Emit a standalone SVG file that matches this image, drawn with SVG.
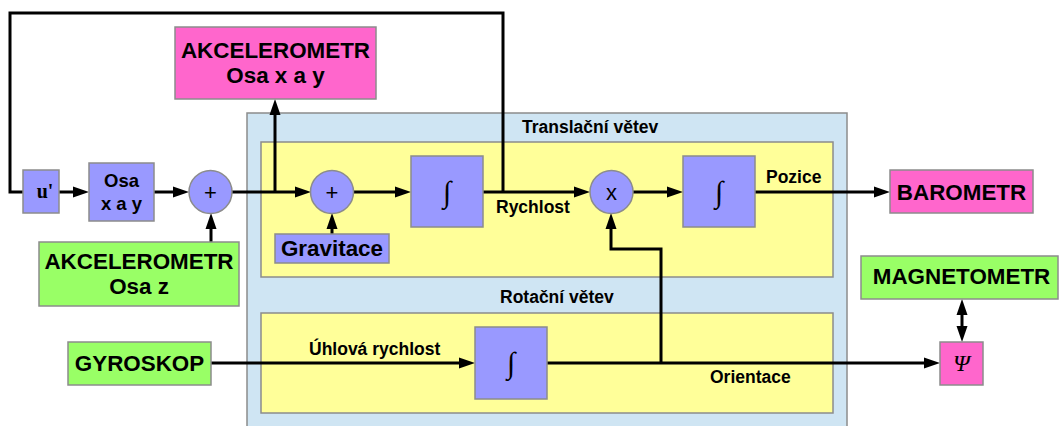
<svg xmlns="http://www.w3.org/2000/svg" width="1059" height="426" viewBox="0 0 1059 426">
  <style>
    .frame { fill: #cfe5f3; stroke: #8c8c8c; stroke-width: 1.5; }
    .branch { fill: #ffff99; stroke: #8c8c8c; stroke-width: 1.5; }
    .blk { fill: #9999ff; stroke: #8c8c8c; stroke-width: 1.5; }
    .pink { fill: #ff66cc; stroke: #8c8c8c; stroke-width: 1.5; }
    .green { fill: #99ff66; stroke: #8c8c8c; stroke-width: 1.5; }
    .big { font-family: "Liberation Sans", Arial, sans-serif; font-weight: bold; font-size: 22.4px; fill: #000; text-anchor: middle; }
    .small { font-family: "Liberation Sans", Arial, sans-serif; font-weight: bold; font-size: 17.5px; fill: #000; }
    .mid { font-family: "Liberation Sans", Arial, sans-serif; font-weight: bold; font-size: 18.5px; fill: #000; text-anchor: middle; }
    .op { font-family: "Liberation Sans", Arial, sans-serif; font-size: 22px; fill: #000; text-anchor: middle; }
    .int { font-family: "Liberation Serif", "Times New Roman", serif; font-size: 30px; fill: #000; text-anchor: middle; }
    .sym { font-family: "Liberation Serif", "Times New Roman", serif; font-style: italic; font-size: 24px; fill: #000; text-anchor: middle; }
    .wire { fill: none; stroke: #000; stroke-width: 3; stroke-linejoin: miter; }
  </style>
  <defs>
    <marker id="head" markerUnits="userSpaceOnUse" markerWidth="17" markerHeight="12" refX="8" refY="6" orient="auto">
      <path d="M0,0.5 L16,6 L0,11.5 z" fill="#000"/>
    </marker>
    <marker id="headStart" markerUnits="userSpaceOnUse" markerWidth="17" markerHeight="12" refX="8" refY="6" orient="auto-start-reverse">
      <path d="M0,0.5 L16,6 L0,11.5 z" fill="#000"/>
    </marker>
  </defs>

  <!-- branch frames -->
  <g id="frame">
    <rect class="frame" x="247" y="113" width="600" height="330"/>
    <text class="small" x="522" y="133">Translační větev</text>
    <text class="small" x="500" y="303">Rotační větev</text>
  </g>
  <g id="translation-branch">
    <rect class="branch" x="261" y="142" width="572" height="135"/>
  </g>
  <g id="rotation-branch">
    <rect class="branch" x="261" y="313" width="572" height="100"/>
  </g>

  <!-- connectors -->
  <g id="connectors">
    <path class="wire" d="M503,192 V13 H10 V192 H23"/>
    <path class="wire" d="M59,192 H81" marker-end="url(#head)"/>
    <path class="wire" d="M154,192 H181" marker-end="url(#head)"/>
    <path class="wire" d="M232,192 H303" marker-end="url(#head)"/>
    <path class="wire" d="M275,192 V107" marker-end="url(#head)"/>
    <path class="wire" d="M211,242 V221" marker-end="url(#head)"/>
    <path class="wire" d="M353,192 H403" marker-end="url(#head)"/>
    <path class="wire" d="M332,234 V221" marker-end="url(#head)"/>
    <path class="wire" d="M483,192 H582" marker-end="url(#head)"/>
    <path class="wire" d="M633,192 H675" marker-end="url(#head)"/>
    <path class="wire" d="M755,192 H882" marker-end="url(#head)"/>
    <path class="wire" d="M211,363 H467" marker-end="url(#head)"/>
    <path class="wire" d="M547,363 H932" marker-end="url(#head)"/>
    <path class="wire" d="M661,363 V249 H611 V221" marker-end="url(#head)"/>
    <path class="wire" d="M962,307 V334" marker-start="url(#headStart)" marker-end="url(#head)"/>
    <text class="small" x="496" y="213">Rychlost</text>
    <text class="small" x="766" y="183">Pozice</text>
    <text class="small" x="309" y="355">Úhlová rychlost</text>
    <text class="small" x="710" y="383">Orientace</text>
  </g>

  <!-- nodes -->
  <g id="acc-xy">
    <rect class="pink" x="175" y="27" width="201" height="72"/>
    <text class="big" x="275.5" y="58">AKCELEROMETR</text>
    <text class="big" x="275.5" y="83">Osa x a y</text>
  </g>
  <g id="u-prime">
    <rect class="blk" x="23" y="170" width="36" height="43"/>
    <text x="45" y="198" font-family="'Liberation Serif', 'Times New Roman', serif" font-weight="bold" font-size="20" text-anchor="middle">u'</text>
  </g>
  <g id="axis-xy">
    <rect class="blk" x="89" y="163" width="65" height="58"/>
    <text class="mid" x="121.5" y="187">Osa</text>
    <text class="mid" x="121.5" y="210">x a y</text>
  </g>
  <g id="sum-1">
    <circle class="blk" cx="210.5" cy="192" r="21.5"/>
    <text class="op" x="210.5" y="199.5">+</text>
  </g>
  <g id="acc-z">
    <rect class="green" x="39" y="242" width="200" height="64"/>
    <text class="big" x="139" y="269">AKCELEROMETR</text>
    <text class="big" x="139" y="294">Osa z</text>
  </g>
  <g id="sum-2">
    <circle class="blk" cx="332" cy="192" r="21.5"/>
    <text class="op" x="332" y="199.5">+</text>
  </g>
  <g id="gravity">
    <rect class="blk" x="275" y="234" width="114" height="29"/>
    <text class="big" x="332" y="256">Gravitace</text>
  </g>
  <g id="integrator-velocity">
    <rect class="blk" x="411" y="156" width="72" height="71"/>
    <text class="int" x="447" y="202">∫</text>
  </g>
  <g id="multiply">
    <circle class="blk" cx="611.5" cy="192" r="21.5"/>
    <text class="op" x="611.5" y="199.5">x</text>
  </g>
  <g id="integrator-position">
    <rect class="blk" x="683" y="156" width="72" height="71"/>
    <text class="int" x="719" y="202">∫</text>
  </g>
  <g id="barometer">
    <rect class="pink" x="890" y="170" width="143" height="43"/>
    <text class="big" x="961.5" y="200">BAROMETR</text>
  </g>
  <g id="gyroscope">
    <rect class="green" x="68" y="342" width="143" height="43"/>
    <text class="big" x="139.5" y="371">GYROSKOP</text>
  </g>
  <g id="integrator-orientation">
    <rect class="blk" x="475" y="327" width="72" height="72"/>
    <text class="int" x="511" y="373">∫</text>
  </g>
  <g id="magnetometer">
    <rect class="green" x="861" y="256" width="197" height="43"/>
    <text class="big" x="961.5" y="284">MAGNETOMETR</text>
  </g>
  <g id="psi">
    <rect class="pink" x="940" y="342" width="43" height="43"/>
    <text class="sym" x="961.5" y="371">Ψ</text>
  </g>
</svg>
